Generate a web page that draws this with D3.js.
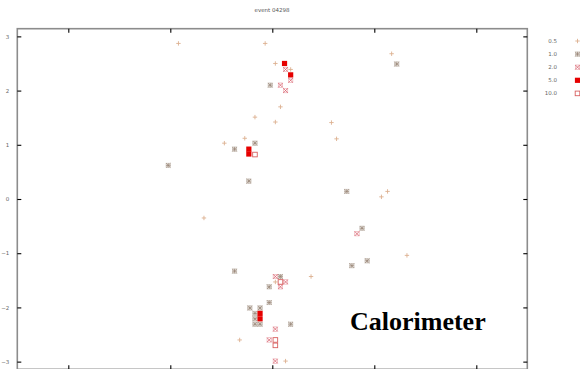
<!DOCTYPE html>
<html>
<head>
<meta charset="utf-8">
<script src="https://cdn.jsdelivr.net/npm/d3@7"></script>
<style>
  body { margin: 0; background: #fff; }
  svg { display: block; }
</style>
</head>
<body>
<div id="chart"></div>
<script>
// energy thresholds (legend) and hits per threshold as [eta, phi]
const thresholds = ["0.5", "1.0", "2.0", "5.0", "10.0"];

const hits05 = [
  [-0.92, 2.87], [-0.07, 2.87], [0.03, 2.50], [0.18, 2.39], [1.17, 2.68],
  [0.08, 1.70], [-0.17, 1.51], [0.03, 1.42], [-0.27, 1.12], [-0.47, 1.03],
  [0.58, 1.41], [0.63, 1.11], [1.13, 0.14], [1.07, 0.04], [-0.67, -0.35],
  [1.32, -1.04], [0.38, -1.43], [0.03, -1.53], [-0.32, -2.60], [0.13, -2.99]
];
const hits10 = [
  [1.22, 2.49], [-0.02, 2.10], [-0.17, 1.03], [-0.37, 0.92], [-1.02, 0.62],
  [-0.23, 0.33], [0.73, 0.14], [0.88, -0.54], [0.93, -1.14], [0.78, -1.23],
  [-0.37, -1.33], [0.08, -1.43], [-0.03, -1.62], [-0.03, -1.91], [-0.22, -2.01],
  [-0.12, -2.01], [-0.17, -2.11], [-0.17, -2.21], [-0.17, -2.31], [-0.12, -2.31],
  [0.18, -2.31]
];
const hits20 = [
  [0.13, 2.39], [0.18, 2.19], [0.08, 2.10], [0.13, 2.00], [0.83, -0.64],
  [0.03, -1.43], [0.13, -1.53], [0.08, -1.62], [0.03, -2.40], [-0.03, -2.60],
  [0.03, -2.99]
];
const hits50 = [
  [0.12, 2.50], [0.18, 2.29], [-0.23, 0.92], [-0.23, 0.83], [-0.12, -2.11],
  [-0.12, -2.21]
];
const hits100 = [
  [-0.17, 0.82], [0.08, -1.53], [0.03, -2.60], [0.03, -2.70]
];

const xTicks = [-2, -1, 0, 1, 2];
const yTicks = [-3, -2, -1, 0, 1, 2, 3];

const series = [
  { label: thresholds[0], data: hits05, type: "plus", color: "#dcb090" },
  { label: thresholds[1], data: hits10, type: "starbox", color: "#9a8878" },
  { label: thresholds[2], data: hits20, type: "xbox", color: "#d8606c" },
  { label: thresholds[3], data: hits50, type: "fill", color: "#e60000" },
  { label: thresholds[4], data: hits100, type: "open", color: "#d86060" }
];

const W = 580, H = 369;
const margin = { left: 17.3, top: 28.7 };
const width = 510, height = 340.6;

const svg = d3.select("#chart").append("svg")
    .attr("width", W)
    .attr("height", H);

svg.append("text")
    .attr("x", 272)
    .attr("y", 12)
    .attr("font-family", "DejaVu Sans")
    .attr("font-size", "5.5px")
    .attr("fill", "#555")
    .attr("text-anchor", "middle")
    .text("event 04298");

const g = svg.append("g")
    .attr("transform", "translate(" + margin.left + "," + margin.top + ")");

const x = d3.scaleLinear().domain([-2.5, 2.5]).range([0, width]);
const y = d3.scaleLinear().domain([-Math.PI, Math.PI]).range([height, 0]);

// frame
g.append("rect")
    .attr("x", 0).attr("y", 0)
    .attr("width", width).attr("height", height)
    .attr("fill", "none")
    .attr("stroke", "#8c8c8c")
    .attr("stroke-width", 1.6);

// axes with inward ticks
const leftAxis = g.append("g").call(d3.axisLeft(y).tickValues(yTicks).tickSize(-4).tickPadding(8).tickFormat(d3.format("d")));
const rightAxis = g.append("g").attr("transform", "translate(" + width + ",0)")
    .call(d3.axisRight(y).tickValues(yTicks).tickSize(-4).tickFormat(""));
const topAxis = g.append("g").call(d3.axisTop(x).tickValues(xTicks).tickSize(-4).tickFormat(""));
const bottomAxis = g.append("g").attr("transform", "translate(0," + height + ")")
    .call(d3.axisBottom(x).tickValues(xTicks).tickSize(-4).tickFormat(""));

[leftAxis, rightAxis, topAxis, bottomAxis].forEach(a => {
  a.select(".domain").remove();
  a.selectAll(".tick line").attr("stroke", "#000").attr("stroke-width", 1.1);
});
leftAxis.selectAll(".tick text")
    .attr("font-family", "DejaVu Sans")
    .attr("font-size", "5.5px")
    .attr("fill", "#666");

function drawMarker(sel, type, color) {
  const s = 2.2;
  if (type === "plus") {
    sel.append("path")
        .attr("d", `M${-s},0H${s}M0,${-s}V${s}`)
        .attr("stroke", color).attr("stroke-width", 0.9).attr("fill", "none");
  } else if (type === "starbox" || type === "xbox") {
    sel.append("rect")
        .attr("x", -s).attr("y", -s).attr("width", 2 * s).attr("height", 2 * s)
        .attr("fill", "none").attr("stroke", color).attr("stroke-width", 0.6).attr("opacity", 0.6);
    let d = `M${-s},${-s}L${s},${s}M${-s},${s}L${s},${-s}`;
    if (type === "starbox") d += `M${-s},0H${s}M0,${-s}V${s}`;
    sel.append("path")
        .attr("d", d)
        .attr("stroke", color).attr("stroke-width", 0.8).attr("fill", "none");
  } else if (type === "fill") {
    sel.append("rect")
        .attr("x", -2.6).attr("y", -2.6).attr("width", 5.2).attr("height", 5.2)
        .attr("fill", color);
  } else if (type === "open") {
    sel.append("rect")
        .attr("x", -2.3).attr("y", -2.3).attr("width", 4.6).attr("height", 4.6)
        .attr("fill", "none").attr("stroke", color).attr("stroke-width", 0.9);
  }
}

series.forEach(s => {
  g.append("g").selectAll("g")
    .data(s.data)
    .enter().append("g")
      .attr("transform", d => "translate(" + x(d[0]) + "," + y(d[1]) + ")")
      .each(function() { drawMarker(d3.select(this), s.type, s.color); });
});

// legend
const legend = svg.append("g");
series.forEach((s, i) => {
  const ly = 41 + i * 13.1;
  legend.append("text")
      .attr("x", 557)
      .attr("y", ly + 2)
      .attr("text-anchor", "end")
      .attr("font-family", "DejaVu Sans")
      .attr("font-size", "5.5px")
      .attr("fill", "#666")
      .text(s.label);
  const m = legend.append("g").attr("transform", "translate(577.5," + ly + ")");
  drawMarker(m, s.type, s.color);
});

svg.append("text")
    .attr("x", 350)
    .attr("y", 330)
    .attr("font-family", "Liberation Serif")
    .attr("font-weight", "bold")
    .attr("font-size", "26px")
    .attr("fill", "#000")
    .text("Calorimeter");
</script>
</body>
</html>
